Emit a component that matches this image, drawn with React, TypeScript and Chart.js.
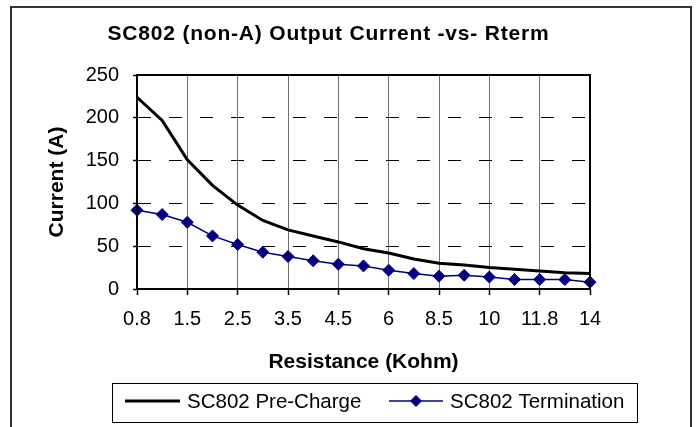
import React, { useEffect, useRef } from 'react';
import { Chart, registerables } from 'chart.js';

Chart.register(...registerables);

// ---- Data ----
const categories = ['0.8', '1', '1.5', '2', '2.5', '3', '3.5', '4', '4.5', '5', '6', '7', '8.5', '9', '10', '11', '11.8', '13', '14'];
const preCharge = [224, 197, 151, 121, 98, 80, 69, 62, 55, 47, 42, 35, 30, 28, 25, 23, 21, 19, 18];
const termination = [92, 87, 78, 62, 52, 43, 38, 33, 29, 27, 22, 18, 15, 16, 14, 11, 11, 11, 8];
const yTickValues = [0, 50, 100, 150, 200, 250];
const seriesNames = ['SC802 Pre-Charge', 'SC802 Termination'];
const titleText = 'SC802 (non-A) Output Current -vs- Rterm';
const xTitleText = 'Resistance (Kohm)';
const yTitleText = 'Current (A)';

const FONT = '"Liberation Sans", Arial, Helvetica, sans-serif';
const NAVY = '#000080';

const decorPlugin = {
  id: 'decor',
  afterDraw(chart: any) {
    const ctx: CanvasRenderingContext2D = chart.ctx;
    const a = chart.chartArea;
    ctx.save();
    // plot area border
    ctx.strokeStyle = '#000';
    ctx.lineWidth = 2;
    ctx.strokeRect(a.left, a.top, a.right - a.left, a.bottom - a.top);
    // outer chart border
    ctx.strokeStyle = '#333';
    ctx.lineWidth = 2;
    ctx.strokeRect(11, 7, 680, 440);
    // title
    ctx.fillStyle = '#000';
    ctx.font = `bold 21px ${FONT}`;
    (ctx as any).letterSpacing = '0.8px';
    ctx.textAlign = 'center';
    ctx.textBaseline = 'alphabetic';
    ctx.fillText(titleText, 328.5, 40);
    (ctx as any).letterSpacing = '0px';
    // legend box
    ctx.strokeStyle = '#000';
    ctx.lineWidth = 1;
    ctx.strokeRect(112.5, 383.5, 525, 39);
    // legend item 1
    ctx.strokeStyle = '#000';
    ctx.lineWidth = 3;
    ctx.beginPath();
    ctx.moveTo(125, 401);
    ctx.lineTo(180, 401);
    ctx.stroke();
    ctx.font = `20.5px ${FONT}`;
    ctx.textAlign = 'left';
    ctx.fillStyle = '#000';
    ctx.fillText(seriesNames[0], 187, 408);
    // legend item 2
    ctx.strokeStyle = NAVY;
    ctx.lineWidth = 1.5;
    ctx.beginPath();
    ctx.moveTo(389, 401);
    ctx.lineTo(443, 401);
    ctx.stroke();
    ctx.fillStyle = NAVY;
    ctx.beginPath();
    ctx.moveTo(416, 395);
    ctx.lineTo(422, 401);
    ctx.lineTo(416, 407);
    ctx.lineTo(410, 401);
    ctx.closePath();
    ctx.fill();
    ctx.fillStyle = '#000';
    ctx.fillText(seriesNames[1], 450, 408);
    ctx.restore();
  },
};

export default function App() {
  const canvasRef = useRef<HTMLCanvasElement | null>(null);

  useEffect(() => {
    if (!canvasRef.current) return;
    const chart = new Chart(canvasRef.current, {
      type: 'line',
      data: {
        labels: categories,
        datasets: [
          {
            label: seriesNames[0],
            data: preCharge,
            borderColor: '#000',
            backgroundColor: '#000',
            borderWidth: 3,
            pointRadius: 0,
            tension: 0,
            fill: false,
          },
          {
            label: seriesNames[1],
            data: termination,
            borderColor: NAVY,
            backgroundColor: NAVY,
            borderWidth: 1.5,
            pointStyle: 'rectRot',
            pointRadius: 6,
            pointBackgroundColor: NAVY,
            pointBorderColor: NAVY,
            pointBorderWidth: 1,
            tension: 0,
            fill: false,
          },
        ],
      },
      options: {
        responsive: false,
        animation: false,
        layout: { padding: { left: 40, top: 75, right: 107, bottom: 50 } },
        plugins: {
          legend: { display: false },
          title: { display: false },
          tooltip: { enabled: false },
        },
        scales: {
          x: {
            type: 'category',
            offset: false,
            grid: {
              color: (c: any) => (c.index % 2 === 0 ? '#6e6e6e' : 'rgba(0,0,0,0)'),
              lineWidth: 1,
              tickLength: 6,
              tickWidth: 1.5,
              tickColor: (c: any) => (c.index % 2 === 0 ? '#000' : 'rgba(0,0,0,0)'),
            },
            border: { display: true, color: '#000', width: 2 },
            ticks: {
              autoSkip: false,
              maxRotation: 0,
              minRotation: 0,
              padding: 12,
              color: '#000',
              font: { family: FONT, size: 20, lineHeight: 1.2 },
              callback: (_v: any, i: number) => (i % 2 === 0 ? categories[i] : ''),
            },
            title: {
              display: true,
              text: xTitleText,
              color: '#000',
              font: { family: FONT, size: 21, weight: 'bold', lineHeight: 1.2 },
              padding: { top: 0, bottom: 2.4 },
            },
            afterFit: (s: any) => {
              s.height = 88;
            },
          },
          y: {
            min: 0,
            max: 250,
            afterBuildTicks: (s: any) => {
              s.ticks = yTickValues.map((v) => ({ value: v }));
            },
            ticks: {
              padding: 14,
              color: '#000',
              font: { family: FONT, size: 20, lineHeight: 1.2 },
            },
            grid: {
              color: '#000',
              lineWidth: 1,
              tickLength: 4,
              tickColor: '#000',
              tickWidth: 1.5,
            },
            border: { display: true, color: '#000', width: 2, dash: [13, 18] },
            title: {
              display: true,
              text: yTitleText,
              color: '#000',
              font: { family: FONT, size: 21, weight: 'bold', lineHeight: 1.2 },
              padding: { top: 4.4, bottom: 0 },
            },
            afterFit: (s: any) => {
              s.width = 97;
            },
          },
        },
      } as any,
      plugins: [decorPlugin],
    });
    return () => chart.destroy();
  }, []);

  return (
    <div style={{ position: 'absolute', left: 0, top: 0, width: 697, height: 427, background: '#fff' }}>
      <canvas ref={canvasRef} width={697} height={427} style={{ display: 'block', width: 697, height: 427 }} />
    </div>
  );
}
